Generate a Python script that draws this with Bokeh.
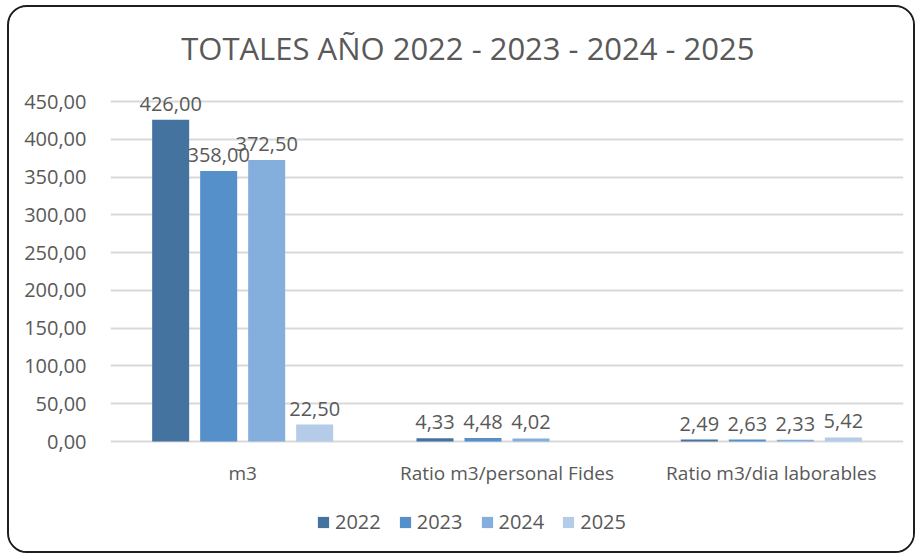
from bokeh.plotting import figure
from bokeh.models import (ColumnDataSource, FactorRange, Range1d, LabelSet, Legend,
                          LegendItem, FixedTicker, CustomJSTickFormatter, Label)
from bokeh.core.properties import value
from bokeh.transform import dodge
from bokeh.embed import file_html
from bokeh.resources import INLINE

# ---- data ----
categories = ["m3", "Ratio m3/personal Fides", "Ratio m3/dia laborables"]
years = ["2022", "2023", "2024", "2025"]
v2022 = [426.00, 4.33, 2.49]
v2023 = [358.00, 4.48, 2.63]
v2024 = [372.50, 4.02, 2.33]
v2025 = [22.50, None, 5.42]
series = [v2022, v2023, v2024, v2025]
y_ticks = [0, 50, 100, 150, 200, 250, 300, 350, 400, 450]
title_text = "TOTALES AÑO 2022 - 2023 - 2024 - 2025"

# ---- style / layout ----
colors = ["#44739F", "#5590CA", "#84AEDB", "#B5CCE9"]
text_color = "#595959"
font = "Open Sans"
grid_color = "#D9D9D9"
step = 0.1816
bar_w = 0.14
offsets = [-1.5 * step, -0.5 * step, 0.5 * step, 1.5 * step]

W, H = 908, 548
top_b, bot_b = 10, 8
axis_top_px, axis_zero_px = 94, 434      # inner pixel rows of 450 and 0
y_top = 450
px_per_unit = (axis_zero_px - axis_top_px) / y_top
y_max = y_top + (axis_top_px - top_b) / px_per_unit
y_min = -(H - bot_b - axis_zero_px) / px_per_unit

p = figure(x_range=FactorRange(*categories), y_range=Range1d(y_min, y_max),
           width=W, height=H, output_backend="svg", toolbar_location=None,
           min_border_left=101, min_border_right=14, min_border_top=top_b,
           min_border_bottom=bot_b, background_fill_color="white",
           border_fill_color="white")
p.styles = {"border": "2px solid #1E1E1E", "border-radius": "20px",
            "overflow": "hidden", "margin-top": "5px", "margin-left": "7px"}
p.outline_line_color = None

# title (drawn inside the extended frame, above the 450 line)
p.add_layout(Label(x=1.352, y=y_top, y_offset=54, text=title_text,
                   text_align="center", text_baseline="alphabetic",
                   text_font=font, text_font_size="31px", text_color=text_color))

items = []
for yr, vals, col, off in zip(years, series, colors, offsets):
    cats = [c for c, v in zip(categories, vals) if v is not None]
    vs = [v for v in vals if v is not None]
    labels = [f"{v:.2f}".replace(".", ",") for v in vs]
    src = ColumnDataSource(dict(cat=cats, val=vs, lab=labels))
    r = p.vbar(x=dodge("cat", off, range=p.x_range), top="val", width=bar_w,
               source=src, fill_color=col, line_color=None)
    items.append(LegendItem(label=yr, renderers=[r]))
    ls = LabelSet(x=dodge("cat", off, range=p.x_range), y="val", text="lab",
                  source=src, y_offset=9, text_align="center",
                  text_baseline="bottom", text_font_size=value("20px"),
                  text_color=text_color, text_font=value(font))
    p.add_layout(ls)

# category labels (below the zero line)
cat_src = ColumnDataSource(dict(cat=categories, zero=[0] * len(categories)))
cat_labels = LabelSet(x="cat", y="zero", text="cat", source=cat_src, y_offset=-31,
                      text_align="center", text_baseline="middle",
                      text_font_size=value("19px"), text_color=text_color,
                      text_font=value(font))
p.add_layout(cat_labels)

legend = Legend(items=items, orientation="horizontal", location=(206, 12),
                glyph_width=14, glyph_height=14, label_standoff=5, spacing=17,
                label_text_font=font, label_text_font_size="20px",
                label_text_color=text_color, background_fill_alpha=0,
                border_line_color=None, padding=0, margin=0)
p.add_layout(legend, "center")

p.yaxis.ticker = FixedTicker(ticks=y_ticks)
p.yaxis.formatter = CustomJSTickFormatter(code="return tick.toFixed(2).replace('.', ',');")
p.yaxis.axis_line_color = None
p.yaxis.major_tick_line_color = None
p.yaxis.minor_tick_line_color = None
p.yaxis.major_label_standoff = 18
p.yaxis.major_label_text_font = font
p.yaxis.major_label_text_font_size = "20px"
p.yaxis.major_label_text_color = text_color

p.xaxis.visible = False
p.xgrid.grid_line_color = None
p.ygrid.grid_line_color = grid_color
p.ygrid.grid_line_width = 2
p.ygrid.ticker = FixedTicker(ticks=y_ticks)

open("out.html", "w").write(file_html(p, INLINE))
